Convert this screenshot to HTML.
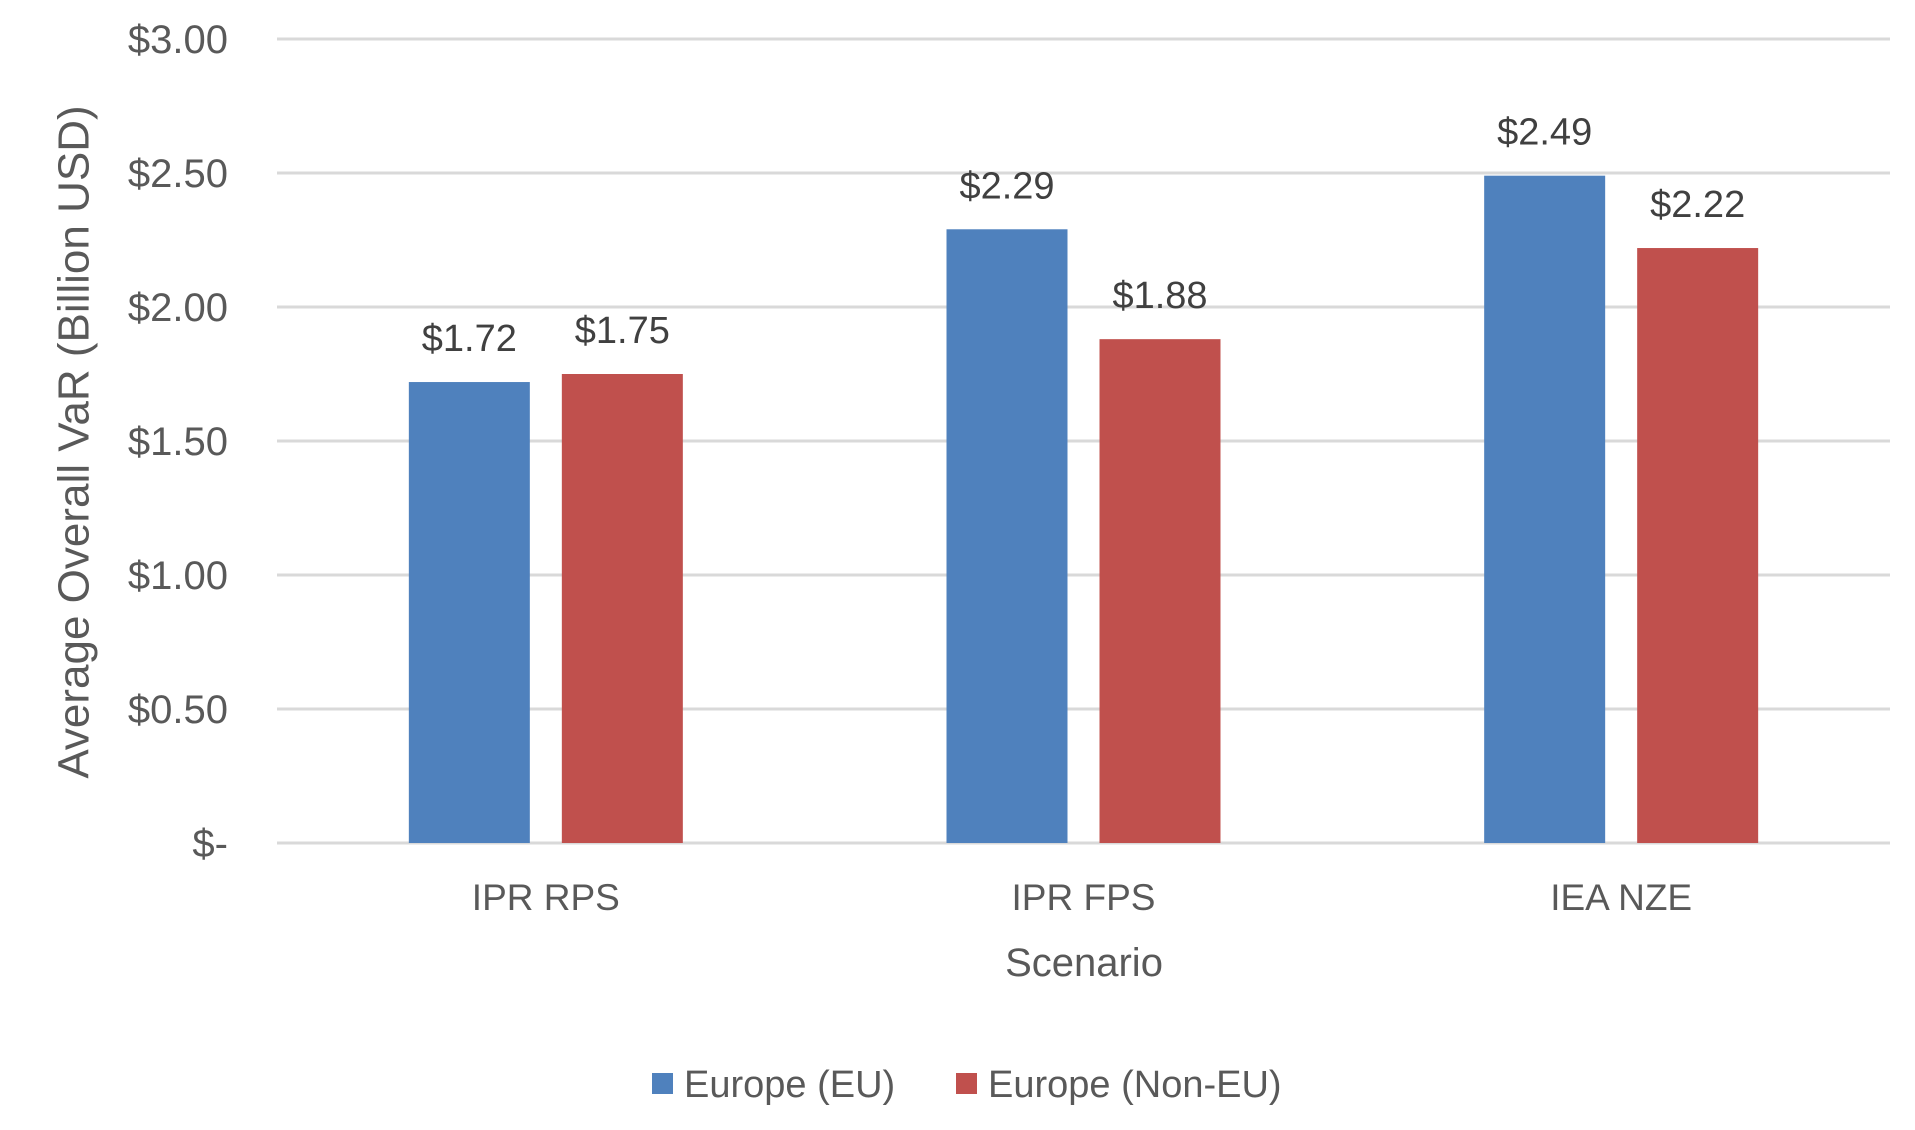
<!DOCTYPE html>
<html><head><meta charset="utf-8"><style>
html,body{margin:0;padding:0;background:#fff;}
svg{display:block;font-family:"Liberation Sans",Arial,sans-serif;}
</style></head><body>
<svg id="chart" width="1915" height="1130" viewBox="0 0 1915 1130">
<g id="grid"></g>
<g id="yticks"></g>
<g id="bars"></g>
<g id="xlabels"></g>
<text x="74" y="442" transform="rotate(-90 74 442)" text-anchor="middle" dominant-baseline="central" font-size="44" fill="#595959">Average Overall VaR (Billion USD)</text>
<text x="1084" y="976" text-anchor="middle" font-size="40" fill="#595959">Scenario</text>
<g>
<g><rect x="652" y="1073" width="21" height="21" fill="#4f81bd"/><text x="684" y="1097" font-size="38" fill="#595959">Europe (EU)</text></g>
<g><rect x="956" y="1073" width="21" height="21" fill="#c0504d"/><text x="988" y="1097" font-size="38" fill="#595959">Europe (Non-EU)</text></g>
</g>
</svg>
<script>
const categories = ["IPR RPS", "IPR FPS", "IEA NZE"];
const euValues = [1.72, 2.29, 2.49];
const nonEuValues = [1.75, 1.88, 2.22];
const tickValues = [0, 0.5, 1, 1.5, 2, 2.5, 3];
const tickLabels = ["$-", "$0.50", "$1.00", "$1.50", "$2.00", "$2.50", "$3.00"];

const NS = "http://www.w3.org/2000/svg";
const xLeft = 277, xRight = 1890, yTop = 39, yBottom = 843, yMax = 3;
const y = v => yBottom - v / yMax * (yBottom - yTop);
const bandW = (xRight - xLeft) / categories.length;
const xc = i => xLeft + bandW * (i + 0.5);
const barW = 121, gap = 32;
function mk(tag, attrs, parent, text) {
  const el = document.createElementNS(NS, tag);
  for (const k in attrs) el.setAttribute(k, attrs[k]);
  if (text !== undefined) el.textContent = text;
  parent.appendChild(el);
  return el;
}
const grid = document.getElementById('grid'), yt = document.getElementById('yticks');
tickValues.forEach((v, i) => {
  const l = mk('line', {x1: xLeft, x2: xRight, y1: y(v), y2: y(v), stroke: '#d9d9d9', 'stroke-width': 3}, grid);
  
  
  const t = mk('text', {x: 228, y: y(v) + 14, 'text-anchor': 'end', 'font-size': 40, fill: '#595959'}, yt, tickLabels[i]);
  
  
});
const bars = document.getElementById('bars'), xl = document.getElementById('xlabels');
categories.forEach((c, i) => {
  const series = [[euValues[i], '#4f81bd', 'eu'], [nonEuValues[i], '#c0504d', 'non-eu']];
  series.forEach((s, j) => {
    const x = xc(i) + (j === 0 ? -gap / 2 - barW : gap / 2);
    const r = mk('rect', {x: x, y: y(s[0]), width: barW, height: yBottom - y(s[0]), fill: s[1]}, bars);
    
    
    const t = mk('text', {x: x + barW / 2, y: y(s[0]) - 31, 'text-anchor': 'middle', 'font-size': 38, fill: '#404040'}, bars, '$' + s[0].toFixed(2));
    
    
  });
  const t = mk('text', {x: xc(i), y: 910, 'text-anchor': 'middle', 'font-size': 37, fill: '#595959'}, xl, c);
  
  
});
</script>
</body></html>
